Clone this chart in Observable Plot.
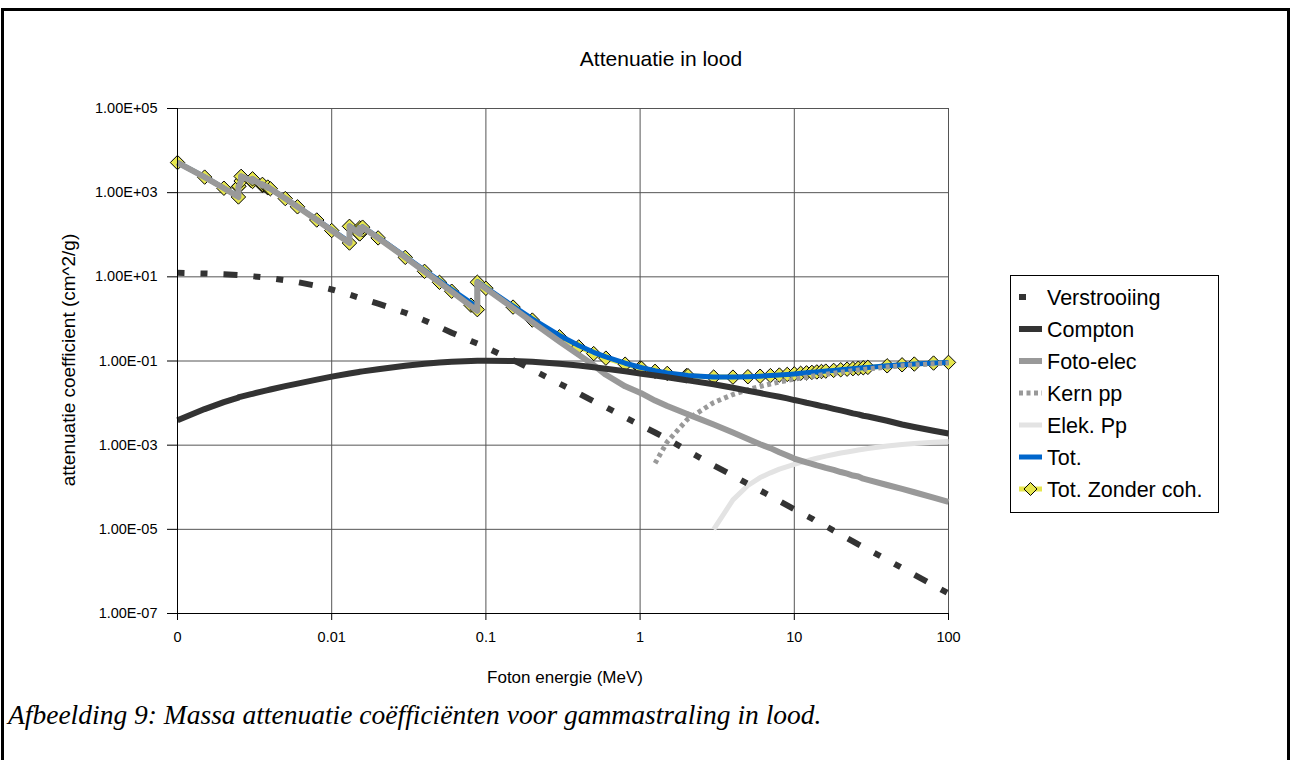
<!DOCTYPE html>
<html>
<head>
<meta charset="utf-8">
<script src="https://cdn.jsdelivr.net/npm/d3@7"></script>
<script src="https://cdn.jsdelivr.net/npm/@observablehq/plot@0.6"></script>
<style>
  html, body { margin: 0; padding: 0; background: #fff; }
  #wrap { position: relative; width: 1291px; height: 760px; overflow: hidden; background: #fff;
          font-family: "Liberation Sans", Arial, sans-serif; color: #000; }
  #frame { position: absolute; left: 1px; top: 8px; width: 1289px; height: 780px; border: 3px solid #000; box-sizing: border-box; }
  #chart { position: absolute; left: 0; top: 0; }
  #chart svg text { font-size: 14.5px; }
  .lbl { position: absolute; white-space: nowrap; line-height: 1; }
  #title { left: 661px; top: 58px; transform: translate(-50%, -50%); font-size: 21px; }
  #xlabel { left: 565px; top: 677px; transform: translate(-50%, -50%); font-size: 17px; }
  #ylabel { left: 68px; top: 360px; transform: translate(-50%, -50%) rotate(-90deg); font-size: 19px; }
  #caption { left: 8px; top: 701px; font-family: "Liberation Serif", "Times New Roman", serif; font-style: italic; font-size: 27.5px; }
  #legend { position: absolute; left: 0; top: 0; }
</style>
</head>
<body>
<div id="wrap">
  <div id="frame"></div>
  <div id="chart"></div>
  <div id="title" class="lbl">Attenuatie in lood</div>
  <div id="ylabel" class="lbl">attenuatie coefficient (cm^2/g)</div>
  <div id="xlabel" class="lbl">Foton energie (MeV)</div>
  <div id="caption" class="lbl">Afbeelding 9: Massa attenuatie coëfficiënten voor gammastraling in lood.</div>
</div>
<script>
// ---------- data (mass attenuation coefficients of lead, cm^2/g) ----------
const energies = [
  0.001, 0.0015, 0.002, 0.002484, 0.002484, 0.0025, 0.002586, 0.002586, 0.003, 0.003066,
  0.003066, 0.003554, 0.003554, 0.003851, 0.003851, 0.004, 0.005, 0.006, 0.008, 0.01,
  0.01304, 0.01304, 0.015, 0.0152, 0.0152, 0.01586, 0.01586, 0.02, 0.03, 0.04,
  0.05, 0.06, 0.08, 0.088, 0.088, 0.1, 0.15, 0.2, 0.3, 0.4,
  0.5, 0.6, 0.8, 1, 1.022, 1.25, 1.5, 2, 2.044, 3,
  4, 5, 6, 7, 8, 9, 10, 11, 12, 13,
  14, 15, 16, 18, 20, 22, 24, 26, 28, 30,
  40, 50, 60, 80, 100
];
const verstrooiing = [
  12.5, 12.0, 11.5, 11.0, 11.0, 11.0, 10.9, 10.9, 10.4, 10.3,
  10.3, 9.8, 9.8, 9.5, 9.5, 9.3, 8.3, 7.5, 6.1, 5.0,
  3.8, 3.8, 3.2, 3.15, 3.15, 3.0, 3.0, 2.3, 1.40, 0.92,
  0.64, 0.47, 0.30, 0.26, 0.26, 0.21, 0.105, 0.062, 0.029, 0.017,
  0.011, 0.0080, 0.0046, 0.0030, 0.0029, 0.0020, 0.0014, 7.6e-4, 7.3e-4, 3.3e-4,
  1.9e-4, 1.2e-4, 8.4e-5, 6.2e-5, 4.7e-5, 3.7e-5, 3.0e-5, 2.5e-5, 2.1e-5, 1.8e-5,
  1.5e-5, 1.3e-5, 1.2e-5, 9.3e-6, 7.5e-6, 6.2e-6, 5.2e-6, 4.4e-6, 3.8e-6, 3.3e-6,
  1.9e-6, 1.2e-6, 8.3e-7, 4.7e-7, 3.0e-7
];
const compton = [
  0.0039, 0.0072, 0.0105, 0.0135, 0.0135, 0.0138, 0.0143, 0.0143, 0.0163, 0.0166,
  0.0166, 0.0190, 0.0190, 0.0203, 0.0203, 0.0210, 0.0252, 0.0290, 0.0360, 0.0425,
  0.0505, 0.0505, 0.0550, 0.0554, 0.0554, 0.0568, 0.0568, 0.0640, 0.0770, 0.0860,
  0.0920, 0.0960, 0.1000, 0.1010, 0.1010, 0.1015, 0.1000, 0.0960, 0.0860, 0.0780,
  0.0710, 0.0655, 0.0570, 0.0505, 0.0499, 0.0452, 0.0410, 0.0350, 0.0346, 0.0280,
  0.0231, 0.0197, 0.0173, 0.0155, 0.0141, 0.0129, 0.0118, 0.0110, 0.0102, 0.0096,
  0.0090, 0.0085, 0.0081, 0.0073, 0.0067, 0.0062, 0.0057, 0.0054, 0.0050, 0.0048,
  0.0038, 0.0031, 0.0027, 0.0022, 0.0019
];
const fotoElec = [
  5197, 2344, 1274, 790, 1386, 1420, 1900, 2440, 1955, 1846,
  2135, 1486, 1575, 1301, 1358, 1241, 723, 461, 224, 126,
  63.5, 158.5, 108.3, 104.6, 145.2, 131.0, 151.4, 84.0, 28.9, 13.4,
  7.32, 4.45, 2.02, 1.56, 7.33, 5.23, 1.81, 0.84, 0.29, 0.14,
  0.080, 0.047, 0.025, 0.0175, 0.0170, 0.0115, 0.0085, 0.0056, 0.0054, 0.0031,
  0.0020, 0.0014, 0.00105, 0.00085, 0.00068, 0.00057, 0.00048, 0.00043, 0.00039, 0.00036,
  0.00033, 0.00031, 0.00029, 0.00026, 0.00023, 0.00021, 0.00019, 0.00018, 0.00016, 0.00015,
  0.000113, 0.000091, 0.000076, 0.000057, 0.000045
];
const kernEnergies = [
  1.25, 1.5, 2, 2.044, 3, 4, 5, 6, 7, 8,
  9, 10, 11, 12, 13, 14, 15, 16, 18, 20,
  22, 24, 26, 28, 30, 40, 50, 60, 80, 100
];
const kernPp = [
  0.00037, 0.0012, 0.0039, 0.0042, 0.0103, 0.0160, 0.0207, 0.0248, 0.0284, 0.0316,
  0.0345, 0.0370, 0.0393, 0.0414, 0.0433, 0.0451, 0.0468, 0.0484, 0.0512, 0.0537,
  0.0568, 0.0591, 0.0610, 0.0630, 0.0647, 0.0718, 0.0770, 0.0806, 0.0859, 0.0894
];
const elekEnergies = [
  3, 4, 5, 6, 7, 8, 9, 10, 11, 12,
  13, 14, 15, 16, 18, 20, 22, 24, 26, 28,
  30, 40, 50, 60, 80, 100
];
const elekPp = [
  1.0e-5, 5.0e-5, 1.1e-4, 1.7e-4, 2.2e-4, 2.7e-4, 3.1e-4, 3.5e-4, 3.9e-4, 4.2e-4,
  4.6e-4, 4.9e-4, 5.2e-4, 5.5e-4, 6.0e-4, 6.5e-4, 6.9e-4, 7.3e-4, 7.7e-4, 8.0e-4,
  8.3e-4, 9.5e-4, 1.04e-3, 1.1e-3, 1.17e-3, 1.22e-3
];
const tot = [
  5210, 2356, 1285, 801, 1397, 1431, 1911, 2451, 1965, 1856,
  2145, 1496, 1585, 1311, 1368, 1250, 731, 469, 230, 131,
  67.4, 162.4, 111.6, 107.8, 148.4, 134.1, 154.5, 86.4, 30.4, 14.4,
  8.05, 5.02, 2.42, 1.91, 7.69, 5.55, 2.01, 1.00, 0.405, 0.233,
  0.161, 0.125, 0.0885, 0.0710, 0.0696, 0.0588, 0.0521, 0.0458, 0.0454, 0.0419,
  0.0416, 0.0424, 0.0436, 0.0450, 0.0465, 0.0480, 0.0494, 0.0509, 0.0523, 0.0537,
  0.0550, 0.0563, 0.0575, 0.0598, 0.0619, 0.0639, 0.0657, 0.0674, 0.0690, 0.0705,
  0.0768, 0.0812, 0.0846, 0.0893, 0.0926
];
const totZonderCoh = [
  5197, 2344, 1274, 790, 1386, 1420, 1900, 2440, 1955, 1846,
  2135, 1486, 1575, 1301, 1358, 1241, 723, 461, 224, 126,
  63.6, 158.6, 108.4, 104.6, 145.2, 131.1, 151.5, 84.1, 29.0, 13.5,
  7.41, 4.55, 2.12, 1.66, 7.43, 5.34, 1.91, 0.938, 0.376, 0.216,
  0.150, 0.117, 0.0840, 0.0680, 0.0667, 0.0568, 0.0507, 0.0450, 0.0447, 0.0416,
  0.0414, 0.0423, 0.0435, 0.0449, 0.0464, 0.0479, 0.0494, 0.0509, 0.0523, 0.0537,
  0.0550, 0.0563, 0.0575, 0.0598, 0.0619, 0.0639, 0.0657, 0.0674, 0.0690, 0.0705,
  0.0768, 0.0812, 0.0846, 0.0893, 0.0926
];
const xTicks = [0.001, 0.01, 0.1, 1, 10, 100];
const xTickLabels = ["0", "0.01", "0.1", "1", "10", "100"];
const yTicks = [1e5, 1e3, 1e1, 1e-1, 1e-3, 1e-5, 1e-7];
const yTickLabels = ["1.00E+05", "1.00E+03", "1.00E+01", "1.00E-01", "1.00E-03", "1.00E-05", "1.00E-07"];
const legendNames = ["Verstrooiing", "Compton", "Foto-elec", "Kern pp", "Elek. Pp", "Tot.", "Tot. Zonder coh."];

// ---------- styles ----------
const YELLOW = "#e6e64e";
const styles = {
  "Verstrooiing":     {stroke: "#333333", strokeWidth: 6,   dash: "7,16,7,16,14,16"},
  "Compton":          {stroke: "#333333", strokeWidth: 6,   dash: null},
  "Foto-elec":        {stroke: "#999999", strokeWidth: 6,   dash: null},
  "Kern pp":          {stroke: "#999999", strokeWidth: 5,   dash: "4,3.5"},
  "Elek. Pp":         {stroke: "#e3e3e3", strokeWidth: 5,   dash: null},
  "Tot.":             {stroke: "#0066cc", strokeWidth: 5,   dash: null},
  "Tot. Zonder coh.": {stroke: YELLOW,    strokeWidth: 5,   dash: null}
};

const rows = (xs, ys) => xs.map((x, i) => ({x, y: ys[i]}));
const xLab = new Map(xTicks.map((d, i) => [d, xTickLabels[i]]));
const yLab = new Map(yTicks.map((d, i) => [d, yTickLabels[i]]));

function lineMark(data, name) {
  const s = styles[name];
  const o = {x: "x", y: "y", stroke: s.stroke, strokeWidth: s.strokeWidth, strokeLinejoin: "round", strokeLinecap: "butt"};
  if (s.dash) o.strokeDasharray = s.dash;
  return Plot.line(data, o);
}

const chart = Plot.plot({
  width: 1291,
  height: 760,
  marginLeft: 177,
  marginRight: 343,
  marginTop: 108,
  marginBottom: 147,
  style: {fontFamily: "'Liberation Sans', Arial, sans-serif", fontSize: "14.5px", color: "#000", background: "transparent"},
  x: {type: "log", domain: [0.001, 100]},
  y: {type: "log", domain: [1e-7, 1e5]},
  marks: [
    Plot.ruleX(xTicks.slice(1), {stroke: "#555", strokeWidth: 1}),
    Plot.ruleY(yTicks.slice(0, -1), {stroke: "#555", strokeWidth: 1}),
    lineMark(rows(energies, totZonderCoh), "Tot. Zonder coh."),
    Plot.dot(rows(energies, totZonderCoh), {x: "x", y: "y", symbol: "diamond2", r: 6.5, fill: YELLOW, stroke: "#000", strokeWidth: 1}),
    lineMark(rows(energies, tot), "Tot."),
    lineMark(rows(elekEnergies, elekPp), "Elek. Pp"),
    lineMark(rows(kernEnergies, kernPp), "Kern pp"),
    lineMark(rows(energies, fotoElec), "Foto-elec"),
    lineMark(rows(energies, compton), "Compton"),
    lineMark(rows(energies, verstrooiing), "Verstrooiing"),
    Plot.ruleX([0.001], {stroke: "#000", strokeWidth: 1}),
    Plot.ruleY([1e-7], {stroke: "#000", strokeWidth: 1}),
    Plot.axisX(xTicks, {tickFormat: d => xLab.get(d), tickSize: 7, tickPadding: 11, label: null}),
    Plot.axisY(yTicks, {tickFormat: d => yLab.get(d), tickSize: 10, tickPadding: 10, label: null})
  ]
});
document.getElementById("chart").appendChild(chart);

// ---------- legend ----------
const lg = d3.select("#wrap").append("svg").attr("id", "legend")
  .attr("width", 1291).attr("height", 760)
  .style("position", "absolute").style("left", "0px").style("top", "0px");
lg.append("rect").attr("x", 1010.5).attr("y", 275.5).attr("width", 208).attr("height", 237)
  .attr("fill", "#fff").attr("stroke", "#000").attr("stroke-width", 1);
legendNames.forEach((name, i) => {
  const s = styles[name];
  const cy = 297 + i * 32;
  const ln = lg.append("line").attr("x1", 1019).attr("x2", 1042).attr("y1", cy).attr("y2", cy)
    .attr("stroke", s.stroke).attr("stroke-width", s.strokeWidth);
  if (s.dash) ln.attr("stroke-dasharray", s.dash);
  if (name === "Tot. Zonder coh.") {
    lg.append("path").attr("d", d3.symbol(d3.symbolDiamond2, 108)()).attr("transform", `translate(1030.5,${cy})`)
      .attr("fill", YELLOW).attr("stroke", "#000").attr("stroke-width", 1);
  }
  lg.append("text").attr("x", 1047).attr("y", cy).attr("dy", "0.35em")
    .attr("font-family", "'Liberation Sans', Arial, sans-serif").attr("font-size", 21.5).text(name);
});
</script>
</body>
</html>
